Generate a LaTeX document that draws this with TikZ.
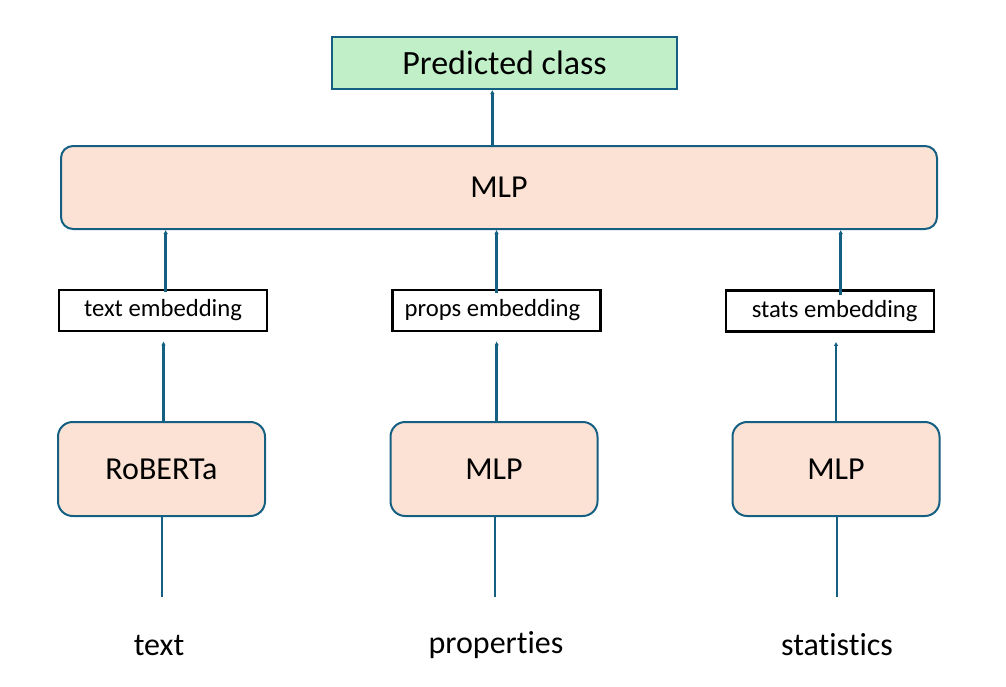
\documentclass[tikz,border=0pt]{standalone}
\usepackage{fontspec}
\setmainfont[Ligatures=NoCommon]{Carlito}
\usetikzlibrary{arrows.meta}
\definecolor{lineblue}{HTML}{156082}
\definecolor{peach}{HTML}{FBE2D5}
\definecolor{mint}{HTML}{C1F0C8}
\tikzset{
  px/.style={x=0.75pt,y=-0.75pt},
  predbox/.style={draw=lineblue,fill=mint,line width=1.5pt,minimum width=258.75pt,minimum height=39pt,font=\fontsize{25.5}{30}\selectfont,inner sep=0pt},
  bigbox/.style={draw=lineblue,fill=peach,line width=1.5pt,rounded corners=9pt,minimum width=657pt,minimum height=62.25pt,font=\fontsize{24}{29}\selectfont,inner sep=0pt},
  embbox/.style={draw=black,fill=white,line width=1.6pt,minimum width=156pt,minimum height=30.75pt,font=\fontsize{18.5}{22}\selectfont,inner sep=0pt},
  encbox/.style={draw=lineblue,fill=peach,line width=1.5pt,rounded corners=11pt,minimum width=155.25pt,minimum height=70.5pt,font=\fontsize{24}{29}\selectfont,inner sep=0pt},
  inlabel/.style={font=\fontsize{24}{29}\selectfont,inner sep=0pt},
  arr/.style={draw=lineblue,line width=2.2pt,-{Latex[length=3pt,width=3.5pt]}},
  feed/.style={draw=lineblue,line width=2.2pt},
}
\begin{document}
\begin{tikzpicture}[px]
\useasboundingbox (0,0) rectangle (1006,686);
\node[predbox] (pred) at (504.5,63) {Predicted class};
\node[bigbox] (mlp) at (499,187.5) {MLP};
\node[embbox] (e1) at (163,310.5) {text embedding};
\node[embbox] (e2) at (496.5,310.5) {\hspace*{-6pt}props embedding};
\node[embbox] (e3) at (830,311) {\hspace*{7pt}stats embedding};
\node[encbox] (r1) at (161.5,469) {RoBERTa};
\node[encbox] (r2) at (494,469) {MLP};
\node[encbox] (r3) at (836,469) {MLP};
\node[inlabel] (t1) at (159,645) {text};
\node[inlabel] (t2) at (496,645) {properties};
\node[inlabel] (t3) at (837,645) {statistics};
\coordinate (c1) at (162,597);
\coordinate (c2) at (495,597);
\coordinate (c3) at (837,597);
% input feeds
\draw[feed] (c1) -- (c1 |- r1.south);
\draw[feed] (c2) -- (c2 |- r2.south);
\draw[feed] (c3) -- (c3 |- r3.south);
% encoders to embeddings
\draw[arr] ([xshift=1.5]r1.north) -- ([xshift=1.5,yshift=-7]r1.north |- e1.south);
\draw[arr] ([xshift=2]r2.north) -- ([xshift=2,yshift=-7]r2.north |- e2.south);
\draw[arr] (r3.north) -- ([yshift=-7]r3.north |- e3.south);
% embeddings to MLP
\draw[arr] ([xshift=2,yshift=-2]e1.north) -- ([xshift=2]e1.north |- mlp.south);
\draw[arr] ([yshift=-3]e2.north) -- (e2.north |- mlp.south);
\draw[arr] ([xshift=8,yshift=-4]e3.north) -- ([xshift=8]e3.north |- mlp.south);
% MLP to prediction
\draw[arr] ([xshift=-5]mlp.north) -- ([xshift=-5]mlp.north |- pred.south);
\end{tikzpicture}
\end{document}
